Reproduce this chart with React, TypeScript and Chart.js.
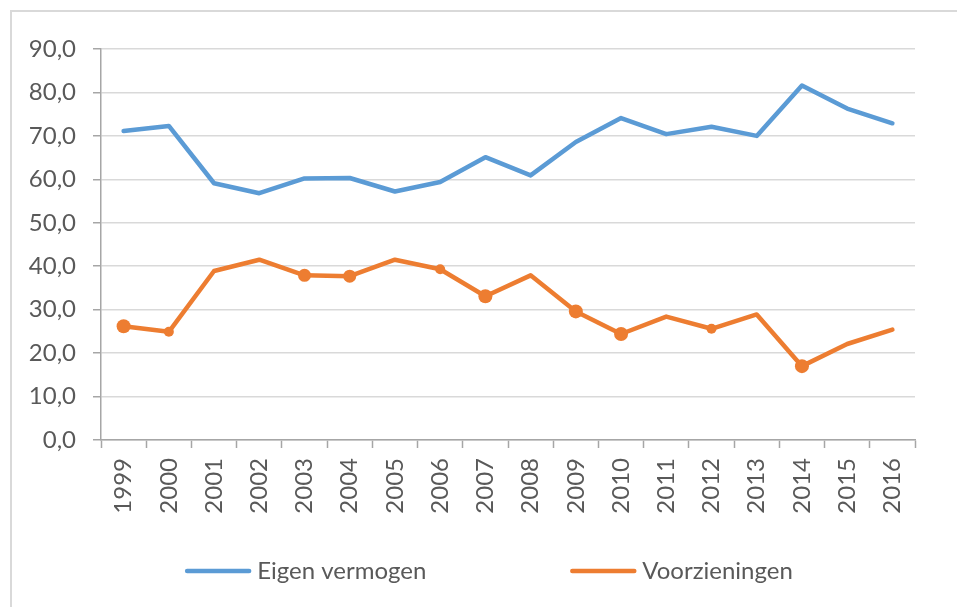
import React, { useEffect, useRef } from "react";
import { Chart, registerables } from "chart.js";

Chart.register(...registerables);

const years = ["1999","2000","2001","2002","2003","2004","2005","2006","2007","2008","2009","2010","2011","2012","2013","2014","2015","2016"];
const eigenVermogen = [71.1, 72.3, 59.1, 56.8, 60.2, 60.3, 57.2, 59.4, 65.1, 60.9, 68.6, 74.1, 70.4, 72.1, 70.0, 81.6, 76.3, 72.9];
const voorzieningen = [26.2, 24.9, 38.9, 41.5, 37.9, 37.7, 41.5, 39.3, 33.1, 37.9, 29.6, 24.4, 28.4, 25.6, 28.9, 17.0, 22.1, 25.4];
const seriesLabels = ["Eigen vermogen", "Voorzieningen"];
const yTickMin = 0;
const yTickMax = 90;
const yTickStep = 10;

// marker sizes (style) for the orange series
const orangeMarkerRadius = [7, 5, 0, 0, 6.5, 6.5, 0, 5, 7, 0, 7, 7, 0, 5, 0, 7, 0, 0];

const BLUE = "#5b9bd5";
const ORANGE = "#ed7d31";
const TEXT = "#595959";
const AXIS = "#a6a6a6";
const GRID = "#d9d9d9";
const FONT = "Lato";
const FONT_SIZE = 24;

const legendPlugin = {
  id: "customLegend",
  afterDraw(chart: any) {
    const ctx = chart.ctx;
    const centerX = 489;
    const y = 571;
    const lineLen = 66;
    const textGap = 6;
    const itemGap = 144;
    ctx.save();
    ctx.font = `${FONT_SIZE}px ${FONT}`;
    const items = chart.data.datasets.map((ds: any) => ({
      label: ds.label,
      color: ds.borderColor,
      w: ctx.measureText(ds.label).width,
    }));
    let total = 0;
    items.forEach((it: any, i: number) => {
      total += lineLen + textGap + it.w + (i > 0 ? itemGap : 0);
    });
    let x = centerX - total / 2;
    items.forEach((it: any, i: number) => {
      if (i > 0) x += itemGap;
      ctx.strokeStyle = it.color;
      ctx.lineWidth = 4.5;
      ctx.lineCap = "round";
      ctx.beginPath();
      ctx.moveTo(x + 2, y);
      ctx.lineTo(x + lineLen - 2, y);
      ctx.stroke();
      x += lineLen + textGap;
      ctx.fillStyle = TEXT;
      ctx.textBaseline = "middle";
      ctx.textAlign = "left";
      ctx.fillText(it.label, x, y);
      x += it.w;
    });
    ctx.restore();
  },
};

export default function App() {
  const ref = useRef<HTMLCanvasElement | null>(null);

  useEffect(() => {
    document.body.style.margin = "0";
    document.body.style.overflow = "hidden";
    let chart: Chart | null = null;
    let cancelled = false;
    const make = () => {
      if (cancelled || !ref.current) return;
      chart = new Chart(ref.current, {
        type: "line",
        data: {
          labels: years,
          datasets: [
            {
              label: seriesLabels[0],
              data: eigenVermogen,
              borderColor: BLUE,
              backgroundColor: BLUE,
              borderWidth: 4.5,
              pointRadius: 0,
              pointHoverRadius: 0,
              tension: 0,
              borderJoinStyle: "round",
              borderCapStyle: "round",
            },
            {
              label: seriesLabels[1],
              data: voorzieningen,
              borderColor: ORANGE,
              backgroundColor: ORANGE,
              borderWidth: 4.5,
              pointRadius: orangeMarkerRadius,
              pointBorderWidth: 0,
              pointBackgroundColor: ORANGE,
              pointHoverRadius: 0,
              tension: 0,
              borderJoinStyle: "round",
              borderCapStyle: "round",
            },
          ],
        },
        options: {
          responsive: false,
          animation: false,
          devicePixelRatio: 1,
          layout: { padding: { left: 0, right: 42, top: 49, bottom: 67 } },
          plugins: {
            legend: { display: false },
            tooltip: { enabled: false },
            title: { display: false },
          },
          scales: {
            x: {
              type: "category",
              offset: true,
              grid: {
                offset: true,
                drawOnChartArea: false,
                drawTicks: true,
                tickLength: 8,
                tickColor: AXIS,
                tickWidth: 1.5,
              },
              border: { color: AXIS, width: 1.5 },
              ticks: {
                color: TEXT,
                font: { family: FONT, size: FONT_SIZE },
                minRotation: 90,
                maxRotation: 90,
                autoSkip: false,
                padding: 10,
              },
              afterFit: (scale: any) => {
                scale.height = 100;
              },
            },
            y: {
              min: yTickMin,
              max: yTickMax,
              ticks: {
                stepSize: yTickStep,
                color: TEXT,
                font: { family: FONT, size: FONT_SIZE },
                padding: 17,
                callback: (v: any) => Number(v).toFixed(1).replace(".", ","),
              },
              grid: {
                color: GRID,
                lineWidth: 1.5,
                drawTicks: true,
                tickLength: 8,
                tickColor: AXIS,
                tickWidth: 1.5,
              },
              border: { color: AXIS, width: 1.5 },
              afterFit: (scale: any) => {
                scale.width = 101;
              },
            },
          },
        },
        plugins: [legendPlugin],
      });
    };
    const fontsApi: any = (document as any).fonts;
    if (fontsApi && fontsApi.load) {
      fontsApi.load(`${FONT_SIZE}px ${FONT}`).then(make, make);
    } else {
      make();
    }
    return () => {
      cancelled = true;
      if (chart) chart.destroy();
    };
  }, []);

  return (
    <div style={{ position: "relative", width: 957, height: 607, overflow: "hidden", background: "#ffffff" }}>
      <div
        style={{
          position: "absolute",
          left: 10,
          top: 10,
          width: 957,
          height: 607,
          borderTop: `2px solid ${GRID}`,
          borderLeft: `2px solid ${GRID}`,
          boxSizing: "border-box",
        }}
      />
      <canvas
        ref={ref}
        width={957}
        height={607}
        style={{ position: "absolute", left: 0, top: 0, width: 957, height: 607 }}
      />
    </div>
  );
}
